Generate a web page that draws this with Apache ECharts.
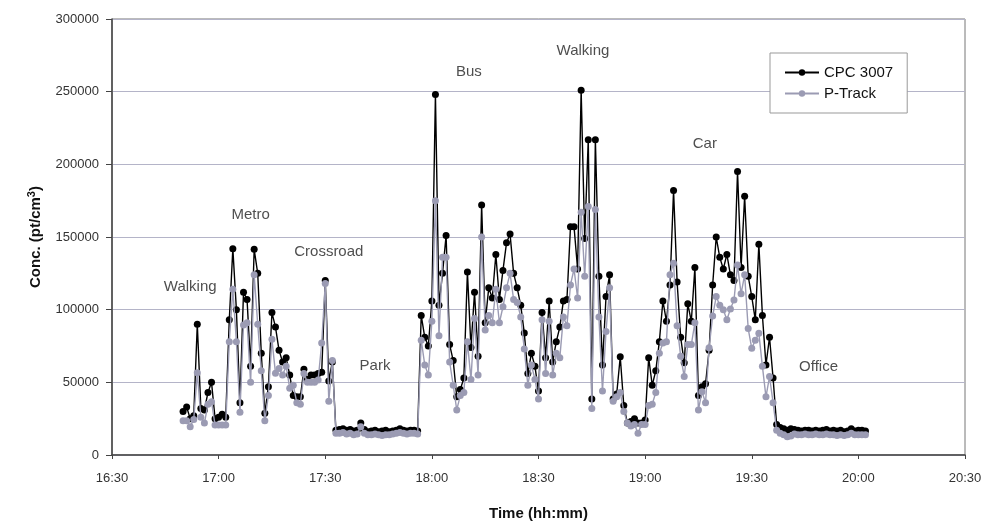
<!DOCTYPE html>
<html>
<head>
<meta charset="utf-8">
<script src="https://cdn.jsdelivr.net/npm/echarts@6/dist/echarts.min.js"></script>
<style>
html, body { margin: 0; padding: 0; background: #fff; }
#main { width: 987px; height: 522px; }
</style>
</head>
<body>
<div id="main"></div>
<script>
// sampling: one reading per minute, first at 16:50 (minutes since midnight)
var startMinute = 1010;

// CPC 3007 readings (pt/cm3, thousands)
var cpc = [
    30, 33, 25, 27, 90, 32, 31, 43, 50, 25, 26, 28, 26, 93, 142, 100, 36, 112, 107, 61,
    141.5, 125, 70, 28.7, 47, 98, 88, 72, 64, 67, 55, 41, 40, 40, 59, 52, 55, 55, 56, 57,
    120, 51, 64,
    // park
    17, 17.5, 18, 17, 17.5, 16.5, 17, 22, 17.5, 16, 16.5, 17, 16, 16.5, 17, 16, 16.5, 17, 18, 17,
    16.5, 17, 17, 16.5,
    // bus
    96, 81, 75, 106, 248, 103, 125, 151, 76, 65, 40, 45, 53, 126, 74, 112, 68, 172, 91, 115,
    108, 138, 107, 127, 146, 152, 125, 115, 103, 84, 56, 70, 61, 44,
    // walking
    98, 67, 106, 64, 78, 88, 106, 107, 157, 157, 128, 251, 149, 217, 38.5, 217, 123, 62, 109, 124,
    38.5, 42, 67.6, 34, 22, 23, 25, 22, 22, 24,
    // car
    67, 48, 58, 78, 106, 92, 117, 182, 119, 81, 63.5, 104, 92, 129, 41, 47, 49, 72, 117, 150,
    136, 128, 138, 124, 120, 195, 129, 178, 123, 109, 93, 145, 96, 62, 81, 53, 21,
    // office
    19, 18, 17, 18, 17.5, 17, 16.5, 17, 17, 16.5, 17, 16.5, 17, 17.5, 16.5, 17, 16.5, 17, 16, 16.5,
    18, 16.5, 17, 17, 16.5
];

// P-Track readings (pt/cm3, thousands)
var ptrack = [
    23.6, 23.6, 19.5, 24.5, 56.6, 26, 22, 35, 36.7, 20.6, 20.6, 20.6, 20.6, 78, 114, 78, 29.4, 89.4, 91, 50,
    124, 90, 58, 23.6, 41, 79.6, 56.2, 59.6, 55, 61, 46, 48, 36, 35, 56, 50, 50, 50, 51.6, 77,
    118, 37, 65,
    15, 15, 15.5, 14.5, 15, 14, 14.5, 19.5, 15, 14, 14, 14.5, 14, 13.5, 14, 14, 14.5, 15, 15.5, 15,
    14.5, 15, 15, 14.5,
    79, 62, 55, 92, 175, 82, 136, 136, 64, 48, 31, 41, 43, 78, 52, 94, 55, 150, 86, 96,
    91, 114, 91, 102, 115, 125, 107, 105, 95, 73, 48, 62, 52, 38.5,
    93, 56, 92, 55, 70, 67, 95, 89, 117, 128, 108, 167, 123, 171, 32, 169, 95, 44, 85, 115,
    37, 40, 43, 30, 22, 20, 21, 15, 21, 21,
    34, 35, 43, 70, 77, 78, 124, 132, 89, 68, 54, 76, 76, 91, 31, 43.6, 36, 73.8, 95.6, 109,
    103, 100, 93, 100.5, 106.6, 130.7, 111, 124, 87, 73.4, 79, 83.7, 61, 40, 54, 36, 17,
    15, 14, 12.5, 13, 14.5, 14, 14, 14.5, 14, 14, 14.5, 14, 14, 14.5, 14, 14, 13.5, 14, 13.5, 14,
    15, 14, 14, 14, 14
];

// activity labels: [text, minute, value]
var activityText = ['Walking', 'Metro', 'Crossroad', 'Park', 'Bus', 'Walking', 'Car', 'Office'];
var activityMinute = [1012, 1029, 1051, 1064, 1090.4, 1122.5, 1156.8, 1188.8];
var activityValue = [115600, 165000, 139700, 61000, 263500, 278000, 214000, 60500];

function toPairs(values) {
    var out = [];
    for (var i = 0; i < values.length; i++) {
        out.push([startMinute + i, values[i] * 1000]);
    }
    return out;
}

function hhmm(m) {
    var h = Math.floor(m / 60);
    var mm = m % 60;
    return h + ':' + (mm < 10 ? '0' + mm : mm);
}

var labels = [];
for (var i = 0; i < activityText.length; i++) {
    labels.push({name: activityText[i], value: [activityMinute[i], activityValue[i]]});
}

var chart = echarts.init(document.getElementById('main'));
chart.setOption({
    animation: false,
    textStyle: {fontFamily: 'Liberation Sans, Arial, sans-serif'},
    grid: {
        left: 112,
        right: 22,
        top: 19,
        bottom: 67,
        containLabel: false,
        outerBoundsMode: 'none',
        show: true,
        borderColor: '#777',
        borderWidth: 1
    },
    legend: {
        orient: 'vertical',
        left: 770,
        top: 53,
        padding: [12, 14, 12, 14],
        itemGap: 6,
        itemWidth: 34,
        itemHeight: 8,
        borderColor: '#999',
        borderWidth: 1,
        backgroundColor: '#fff',
        textStyle: {fontSize: 15, color: '#111'},
        data: ['CPC 3007', 'P-Track']
    },
    xAxis: {
        type: 'value',
        min: 990,
        max: 1230,
        interval: 30,
        name: 'Time (hh:mm)',
        nameLocation: 'middle',
        nameGap: 51,
        nameTextStyle: {fontSize: 15, fontWeight: 'bold', color: '#111'},
        axisLine: {lineStyle: {color: '#444', width: 1.5}},
        axisTick: {lineStyle: {color: '#444'}, length: 4},
        axisLabel: {
            fontSize: 13, color: '#333', margin: 17,
            formatter: function(v) { return hhmm(v); }
        },
        splitLine: {show: false}
    },
    yAxis: {
        type: 'value',
        min: 0,
        max: 300000,
        interval: 50000,
        name: 'Conc. (pt/cm{sup|3})',
        nameLocation: 'middle',
        nameRotate: 90,
        nameGap: 66,
        nameTextStyle: {
            fontSize: 15, fontWeight: 'bold', color: '#111',
            rich: {sup: {fontSize: 11, fontWeight: 'bold', color: '#111', padding: [0, 0, 9, 0]}}
        },
        axisLine: {show: true, lineStyle: {color: '#444', width: 1.5}},
        axisTick: {show: true, lineStyle: {color: '#444'}, length: 6},
        axisLabel: {
            fontSize: 13, color: '#333', margin: 13,
            formatter: function(v) { return String(v); }
        },
        splitLine: {lineStyle: {color: '#b4b4c8', width: 1.2}}
    },
    series: [
        {
            name: 'P-Track',
            type: 'line',
            data: toPairs(ptrack),
            symbol: 'circle',
            symbolSize: 7,
            z: 2,
            itemStyle: {color: '#9b9bb3'},
            lineStyle: {color: '#9b9bb3', width: 1.4}
        },
        {
            name: 'CPC 3007',
            type: 'line',
            data: toPairs(cpc),
            symbol: 'circle',
            symbolSize: 7,
            z: 1,
            itemStyle: {color: '#000'},
            lineStyle: {color: '#000', width: 1.4}
        },
        {
            name: 'activities',
            type: 'scatter',
            data: labels,
            symbolSize: 0,
            silent: true,
            label: {
                show: true,
                position: 'inside',
                formatter: '{b}',
                fontSize: 15,
                color: '#222'
            }
        }
    ]
});
</script>
</body>
</html>
